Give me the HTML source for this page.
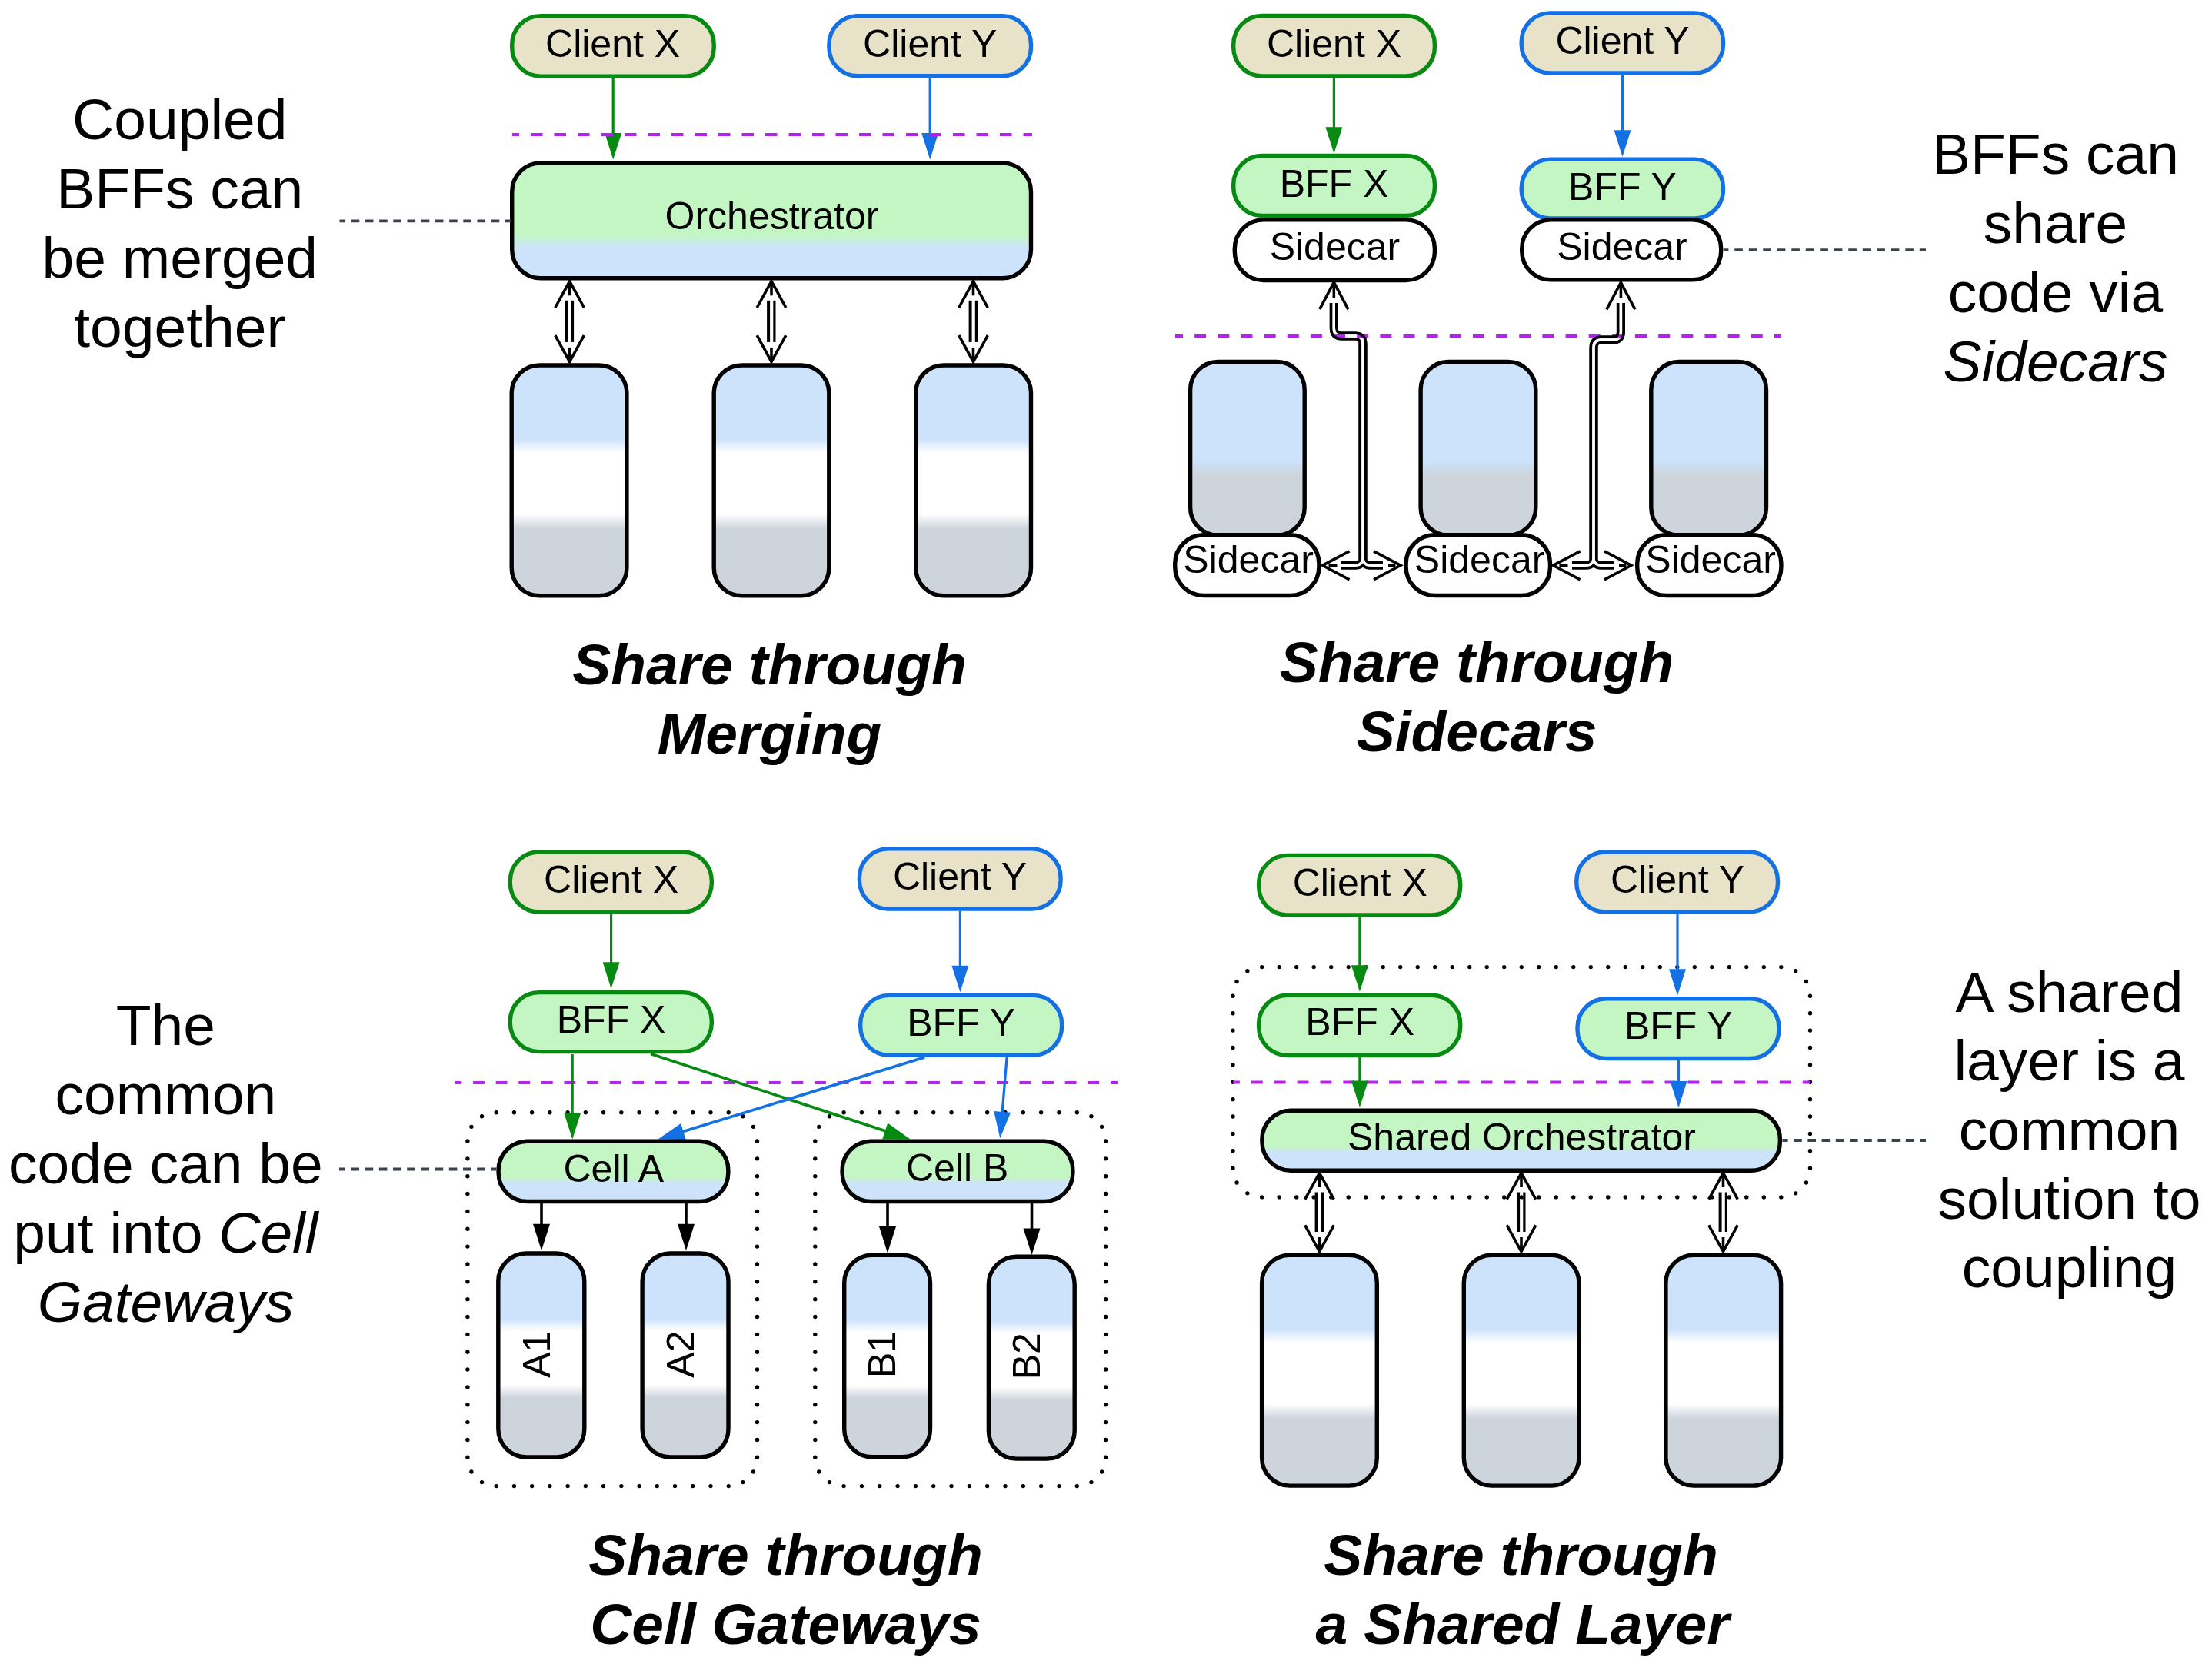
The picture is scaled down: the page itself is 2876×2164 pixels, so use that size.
<!DOCTYPE html>
<html><head><meta charset="utf-8"><style>
html,body{margin:0;padding:0;background:#fff;}
svg{display:block;font-family:"Liberation Sans",sans-serif;}
</style></head><body>
<svg width="2876" height="2164" viewBox="0 0 2876 2164">
<defs>
<linearGradient id="gOrch" x1="0" y1="0" x2="0" y2="1">
 <stop offset="0" stop-color="#c4f6c4"/><stop offset="0.62" stop-color="#c4f6c4"/><stop offset="0.74" stop-color="#cde2fb"/><stop offset="1" stop-color="#cde2fb"/>
</linearGradient>
<linearGradient id="gCell" x1="0" y1="0" x2="0" y2="1">
 <stop offset="0" stop-color="#c4f6c4"/><stop offset="0.6" stop-color="#c4f6c4"/><stop offset="0.695" stop-color="#cde2fb"/><stop offset="1" stop-color="#cde2fb"/>
</linearGradient>
<linearGradient id="gDb" x1="0" y1="0" x2="0" y2="1">
 <stop offset="0" stop-color="#cde2fb"/><stop offset="0.32" stop-color="#cde2fb"/><stop offset="0.38" stop-color="#ffffff"/><stop offset="0.645" stop-color="#ffffff"/><stop offset="0.71" stop-color="#cdd4dc"/><stop offset="1" stop-color="#cdd4dc"/>
</linearGradient>
<linearGradient id="gSc" x1="0" y1="0" x2="0" y2="1">
 <stop offset="0" stop-color="#cde2fb"/><stop offset="0.575" stop-color="#cde2fb"/><stop offset="0.655" stop-color="#cdd4dc"/><stop offset="1" stop-color="#cdd4dc"/>
</linearGradient>
</defs>
<rect width="2876" height="2164" fill="#fff"/>
<rect x="665.70" y="20.60" width="262.50" height="78.50" rx="37.3" ry="37.3" fill="#e8e2c8" stroke="#078a12" stroke-width="5.4"/>
<text x="796.6" y="74.1" font-size="50" font-weight="normal" font-style="normal" text-anchor="middle" >Client X</text>
<rect x="1077.90" y="20.60" width="262.60" height="78.20" rx="37.3" ry="37.3" fill="#e8e2c8" stroke="#1471e4" stroke-width="5.4"/>
<text x="1209.2" y="73.7" font-size="50" font-weight="normal" font-style="normal" text-anchor="middle" >Client Y</text>
<line x1="797.2" y1="101" x2="797.2" y2="174.0" stroke="#078a12" stroke-width="3.2"/>
<path d="M786.2,173.0 L808.2,173.0 L797.2,207.5 Z" fill="#078a12"/>
<line x1="1209.2" y1="101" x2="1209.2" y2="174.0" stroke="#1471e4" stroke-width="3.2"/>
<path d="M1198.2,173.0 L1220.2,173.0 L1209.2,207.5 Z" fill="#1471e4"/>
<line x1="666" y1="175" x2="1342" y2="175" stroke="#b422f2" stroke-width="4" stroke-dasharray="15.5 15" stroke-dashoffset="6.5"/>
<rect x="665.70" y="211.90" width="674.80" height="149.90" rx="37.3" ry="37.3" fill="url(#gOrch)" stroke="#000" stroke-width="5.4"/>
<text x="1003.5" y="298.1" font-size="50" font-weight="normal" font-style="normal" text-anchor="middle" >Orchestrator</text>
<line x1="664" y1="287.3" x2="441.5" y2="287.3" stroke="#3a424e" stroke-width="3.8" stroke-dasharray="10.6 7.6" stroke-dashoffset="3.5"/>
<path d="M721.8000000000001,400.0 L740.6,365.8 L759.4,400.0" fill="none" stroke="#000" stroke-width="3.6"/>
<path d="M721.8000000000001,436.2 L740.6,470.4 L759.4,436.2" fill="none" stroke="#000" stroke-width="3.6"/>
<line x1="740.6" y1="366.8" x2="740.6" y2="384.3" stroke="#000" stroke-width="3.6"/>
<line x1="740.6" y1="451.9" x2="740.6" y2="469.4" stroke="#000" stroke-width="3.6"/>
<line x1="736.7" y1="390.8" x2="736.7" y2="444.9" stroke="#000" stroke-width="4"/>
<line x1="744.5" y1="390.8" x2="744.5" y2="444.9" stroke="#000" stroke-width="3.2"/>
<rect x="665.20" y="475.00" width="149.70" height="299.80" rx="36.3" ry="36.3" fill="url(#gDb)" stroke="#000" stroke-width="5.4"/>
<path d="M984.2,400.0 L1003,365.8 L1021.8,400.0" fill="none" stroke="#000" stroke-width="3.6"/>
<path d="M984.2,436.2 L1003,470.4 L1021.8,436.2" fill="none" stroke="#000" stroke-width="3.6"/>
<line x1="1003" y1="366.8" x2="1003" y2="384.3" stroke="#000" stroke-width="3.6"/>
<line x1="1003" y1="451.9" x2="1003" y2="469.4" stroke="#000" stroke-width="3.6"/>
<line x1="999.1" y1="390.8" x2="999.1" y2="444.9" stroke="#000" stroke-width="4"/>
<line x1="1006.9" y1="390.8" x2="1006.9" y2="444.9" stroke="#000" stroke-width="3.2"/>
<rect x="928.20" y="475.00" width="149.60" height="299.80" rx="36.3" ry="36.3" fill="url(#gDb)" stroke="#000" stroke-width="5.4"/>
<path d="M1246.7,400.0 L1265.5,365.8 L1284.3,400.0" fill="none" stroke="#000" stroke-width="3.6"/>
<path d="M1246.7,436.2 L1265.5,470.4 L1284.3,436.2" fill="none" stroke="#000" stroke-width="3.6"/>
<line x1="1265.5" y1="366.8" x2="1265.5" y2="384.3" stroke="#000" stroke-width="3.6"/>
<line x1="1265.5" y1="451.9" x2="1265.5" y2="469.4" stroke="#000" stroke-width="3.6"/>
<line x1="1261.6" y1="390.8" x2="1261.6" y2="444.9" stroke="#000" stroke-width="4"/>
<line x1="1269.4" y1="390.8" x2="1269.4" y2="444.9" stroke="#000" stroke-width="3.2"/>
<rect x="1190.70" y="475.00" width="149.80" height="299.80" rx="36.3" ry="36.3" fill="url(#gDb)" stroke="#000" stroke-width="5.4"/>
<text x="233.8" y="180.6" font-size="75" font-weight="normal" font-style="normal" text-anchor="middle" >Coupled</text>
<text x="233.8" y="270.6" font-size="75" font-weight="normal" font-style="normal" text-anchor="middle" >BFFs can</text>
<text x="233.8" y="360.6" font-size="75" font-weight="normal" font-style="normal" text-anchor="middle" >be merged</text>
<text x="233.8" y="450.6" font-size="75" font-weight="normal" font-style="normal" text-anchor="middle" >together</text>
<text x="1000.5" y="890.0" font-size="75" font-weight="bold" font-style="italic" text-anchor="middle" >Share through</text>
<text x="1000.5" y="980.2" font-size="75" font-weight="bold" font-style="italic" text-anchor="middle" >Merging</text>
<rect x="1603.70" y="20.50" width="261.70" height="78.40" rx="37.3" ry="37.3" fill="#e8e2c8" stroke="#078a12" stroke-width="5.4"/>
<text x="1734.5" y="74.2" font-size="50" font-weight="normal" font-style="normal" text-anchor="middle" >Client X</text>
<rect x="1978.20" y="16.90" width="262.30" height="78.10" rx="37.3" ry="37.3" fill="#e8e2c8" stroke="#1471e4" stroke-width="5.4"/>
<text x="2109.5" y="69.7" font-size="50" font-weight="normal" font-style="normal" text-anchor="middle" >Client Y</text>
<line x1="1734.4" y1="101" x2="1734.4" y2="166.3" stroke="#078a12" stroke-width="3.2"/>
<path d="M1723.4,165.3 L1745.4,165.3 L1734.4,199.8 Z" fill="#078a12"/>
<line x1="2109.5" y1="97" x2="2109.5" y2="170.3" stroke="#1471e4" stroke-width="3.2"/>
<path d="M2098.5,169.3 L2120.5,169.3 L2109.5,203.8 Z" fill="#1471e4"/>
<rect x="1547.60" y="470.50" width="148.60" height="225.80" rx="36.3" ry="36.3" fill="url(#gSc)" stroke="#000" stroke-width="5.4"/>
<rect x="1847.10" y="470.50" width="149.70" height="225.80" rx="36.3" ry="36.3" fill="url(#gSc)" stroke="#000" stroke-width="5.4"/>
<rect x="2146.80" y="470.50" width="149.70" height="225.80" rx="36.3" ry="36.3" fill="url(#gSc)" stroke="#000" stroke-width="5.4"/>
<line x1="1528" y1="437" x2="2316" y2="437" stroke="#b422f2" stroke-width="4" stroke-dasharray="15 15.15" stroke-dashoffset="5"/>
<rect x="1603.70" y="202.50" width="261.70" height="78.00" rx="37.3" ry="37.3" fill="#c4f6c4" stroke="#078a12" stroke-width="5.4"/>
<text x="1734.5" y="255.8" font-size="50" font-weight="normal" font-style="normal" text-anchor="middle" >BFF X</text>
<rect x="1978.20" y="207.10" width="262.30" height="76.80" rx="37.3" ry="37.3" fill="#c4f6c4" stroke="#1471e4" stroke-width="5.4"/>
<text x="2109.5" y="260.3" font-size="50" font-weight="normal" font-style="normal" text-anchor="middle" >BFF Y</text>
<rect x="1605.30" y="285.90" width="260.10" height="78.60" rx="37.3" ry="37.3" fill="#ffffff" stroke="#000" stroke-width="5.4"/>
<text x="1735.4" y="338.0" font-size="50" font-weight="normal" font-style="normal" text-anchor="middle" >Sidecar</text>
<rect x="1978.70" y="285.90" width="259.00" height="77.90" rx="37.3" ry="37.3" fill="#ffffff" stroke="#000" stroke-width="5.4"/>
<text x="2109.0" y="338.4" font-size="50" font-weight="normal" font-style="normal" text-anchor="middle" >Sidecar</text>
<line x1="2241" y1="325.2" x2="2504" y2="325.2" stroke="#3a424e" stroke-width="3.8" stroke-dasharray="10.6 7.9" stroke-dashoffset="4.2"/>
<mask id="pm1" maskUnits="userSpaceOnUse" x="0" y="0" width="2876" height="2164"><rect x="0" y="0" width="2876" height="2164" fill="#fff"/><path d="M1734.3,394 V427 Q1734.3,437 1744.3,437 H1762 Q1772,437 1772,447 V725.3 Q1772,735.3 1762,735.3 H1744" fill="none" stroke="#000" stroke-width="3.4"/><path d="M1734.3,394 V427 Q1734.3,437 1744.3,437 H1762 Q1772,437 1772,447 V725.3 Q1772,735.3 1782,735.3 H1798" fill="none" stroke="#000" stroke-width="3.4"/></mask>
<g mask="url(#pm1)"><path d="M1734.3,394 V427 Q1734.3,437 1744.3,437 H1762 Q1772,437 1772,447 V725.3 Q1772,735.3 1762,735.3 H1744" fill="none" stroke="#000" stroke-width="11"/><path d="M1734.3,394 V427 Q1734.3,437 1744.3,437 H1762 Q1772,437 1772,447 V725.3 Q1772,735.3 1782,735.3 H1798" fill="none" stroke="#000" stroke-width="11"/></g>
<path d="M1752.8,402.2 L1734.3,367.2 L1715.8,402.2" fill="none" stroke="#000" stroke-width="3.6"/>
<line x1="1734.3" y1="369.2" x2="1734.3" y2="387.2" stroke="#000" stroke-width="3.6"/>
<path d="M1754.5,716.8 L1719.5,735.3 L1754.5,753.8" fill="none" stroke="#000" stroke-width="3.6"/>
<line x1="1727.5" y1="735.3" x2="1738.5" y2="735.3" stroke="#000" stroke-width="3.6"/>
<path d="M1786.0,753.8 L1821.0,735.3 L1786.0,716.8" fill="none" stroke="#000" stroke-width="3.6"/>
<line x1="1814.5" y1="735.3" x2="1805.0" y2="735.3" stroke="#000" stroke-width="3.6"/>
<mask id="pm2" maskUnits="userSpaceOnUse" x="0" y="0" width="2876" height="2164"><rect x="0" y="0" width="2876" height="2164" fill="#fff"/><path d="M2107.4,394 V432 Q2107.4,442 2097.4,442 H2082 Q2072,442 2072,452 V725.3 Q2072,735.3 2062,735.3 H2044" fill="none" stroke="#000" stroke-width="3.4"/><path d="M2107.4,394 V432 Q2107.4,442 2097.4,442 H2082 Q2072,442 2072,452 V725.3 Q2072,735.3 2082,735.3 H2098" fill="none" stroke="#000" stroke-width="3.4"/></mask>
<g mask="url(#pm2)"><path d="M2107.4,394 V432 Q2107.4,442 2097.4,442 H2082 Q2072,442 2072,452 V725.3 Q2072,735.3 2062,735.3 H2044" fill="none" stroke="#000" stroke-width="11"/><path d="M2107.4,394 V432 Q2107.4,442 2097.4,442 H2082 Q2072,442 2072,452 V725.3 Q2072,735.3 2082,735.3 H2098" fill="none" stroke="#000" stroke-width="11"/></g>
<path d="M2125.9,402.3 L2107.4,367.3 L2088.9,402.3" fill="none" stroke="#000" stroke-width="3.6"/>
<line x1="2107.4" y1="369.3" x2="2107.4" y2="387.3" stroke="#000" stroke-width="3.6"/>
<path d="M2054.5,716.8 L2019.5,735.3 L2054.5,753.8" fill="none" stroke="#000" stroke-width="3.6"/>
<line x1="2027.5" y1="735.3" x2="2038.5" y2="735.3" stroke="#000" stroke-width="3.6"/>
<path d="M2086.0,753.8 L2121.0,735.3 L2086.0,716.8" fill="none" stroke="#000" stroke-width="3.6"/>
<line x1="2114.5" y1="735.3" x2="2105.0" y2="735.3" stroke="#000" stroke-width="3.6"/>
<rect x="1527.70" y="695.80" width="187.20" height="78.70" rx="37.3" ry="37.3" fill="#ffffff" stroke="#000" stroke-width="5.4"/>
<text x="1623.1" y="744.9" font-size="50" font-weight="normal" font-style="normal" text-anchor="middle" >Sidecar</text>
<rect x="1828.10" y="695.80" width="187.40" height="78.70" rx="37.3" ry="37.3" fill="#ffffff" stroke="#000" stroke-width="5.4"/>
<text x="1923.6" y="744.9" font-size="50" font-weight="normal" font-style="normal" text-anchor="middle" >Sidecar</text>
<rect x="2128.70" y="695.80" width="187.20" height="78.70" rx="37.3" ry="37.3" fill="#ffffff" stroke="#000" stroke-width="5.4"/>
<text x="2224.1" y="744.9" font-size="50" font-weight="normal" font-style="normal" text-anchor="middle" >Sidecar</text>
<text x="2672.5" y="225.5" font-size="75" font-weight="normal" font-style="normal" text-anchor="middle" >BFFs can</text>
<text x="2672.5" y="315.5" font-size="75" font-weight="normal" font-style="normal" text-anchor="middle" >share</text>
<text x="2672.5" y="405.5" font-size="75" font-weight="normal" font-style="normal" text-anchor="middle" >code via</text>
<text x="2672.5" y="495.8" font-size="75" font-weight="normal" font-style="italic" text-anchor="middle" >Sidecars</text>
<text x="1920.0" y="886.8" font-size="75" font-weight="bold" font-style="italic" text-anchor="middle" >Share through</text>
<text x="1920.0" y="976.8" font-size="75" font-weight="bold" font-style="italic" text-anchor="middle" >Sidecars</text>
<path d="M645.20,1446.70h0M668.43,1446.70h0M691.66,1446.70h0M714.89,1446.70h0M738.12,1446.70h0M761.35,1446.70h0M784.58,1446.70h0M807.82,1446.70h0M831.05,1446.70h0M854.28,1446.70h0M877.51,1446.70h0M900.74,1446.70h0M923.97,1446.70h0M947.20,1446.70h0M965.85,1451.70h0M979.50,1465.35h0M984.50,1484.00h0M984.50,1506.85h0M984.50,1529.70h0M984.50,1552.55h0M984.50,1575.40h0M984.50,1598.25h0M984.50,1621.10h0M984.50,1643.95h0M984.50,1666.80h0M984.50,1689.65h0M984.50,1712.50h0M984.50,1735.35h0M984.50,1758.20h0M984.50,1781.05h0M984.50,1803.90h0M984.50,1826.75h0M984.50,1849.60h0M984.50,1872.45h0M984.50,1895.30h0M979.50,1913.95h0M965.85,1927.60h0M947.20,1932.60h0M923.97,1932.60h0M900.74,1932.60h0M877.51,1932.60h0M854.28,1932.60h0M831.05,1932.60h0M807.82,1932.60h0M784.58,1932.60h0M761.35,1932.60h0M738.12,1932.60h0M714.89,1932.60h0M691.66,1932.60h0M668.43,1932.60h0M645.20,1932.60h0M626.55,1927.60h0M612.90,1913.95h0M607.90,1895.30h0M607.90,1872.45h0M607.90,1849.60h0M607.90,1826.75h0M607.90,1803.90h0M607.90,1781.05h0M607.90,1758.20h0M607.90,1735.35h0M607.90,1712.50h0M607.90,1689.65h0M607.90,1666.80h0M607.90,1643.95h0M607.90,1621.10h0M607.90,1598.25h0M607.90,1575.40h0M607.90,1552.55h0M607.90,1529.70h0M607.90,1506.85h0M607.90,1484.00h0M612.90,1465.35h0M626.55,1451.70h0" fill="none" stroke="#000" stroke-width="5.4" stroke-linecap="round"/>
<path d="M1097.10,1446.70h0M1120.42,1446.70h0M1143.75,1446.70h0M1167.07,1446.70h0M1190.39,1446.70h0M1213.72,1446.70h0M1237.04,1446.70h0M1260.36,1446.70h0M1283.68,1446.70h0M1307.01,1446.70h0M1330.33,1446.70h0M1353.65,1446.70h0M1376.98,1446.70h0M1400.30,1446.70h0M1418.95,1451.70h0M1432.60,1465.35h0M1437.60,1484.00h0M1437.60,1506.85h0M1437.60,1529.70h0M1437.60,1552.55h0M1437.60,1575.40h0M1437.60,1598.25h0M1437.60,1621.10h0M1437.60,1643.95h0M1437.60,1666.80h0M1437.60,1689.65h0M1437.60,1712.50h0M1437.60,1735.35h0M1437.60,1758.20h0M1437.60,1781.05h0M1437.60,1803.90h0M1437.60,1826.75h0M1437.60,1849.60h0M1437.60,1872.45h0M1437.60,1895.30h0M1432.60,1913.95h0M1418.95,1927.60h0M1400.30,1932.60h0M1376.98,1932.60h0M1353.65,1932.60h0M1330.33,1932.60h0M1307.01,1932.60h0M1283.68,1932.60h0M1260.36,1932.60h0M1237.04,1932.60h0M1213.72,1932.60h0M1190.39,1932.60h0M1167.07,1932.60h0M1143.75,1932.60h0M1120.42,1932.60h0M1097.10,1932.60h0M1078.45,1927.60h0M1064.80,1913.95h0M1059.80,1895.30h0M1059.80,1872.45h0M1059.80,1849.60h0M1059.80,1826.75h0M1059.80,1803.90h0M1059.80,1781.05h0M1059.80,1758.20h0M1059.80,1735.35h0M1059.80,1712.50h0M1059.80,1689.65h0M1059.80,1666.80h0M1059.80,1643.95h0M1059.80,1621.10h0M1059.80,1598.25h0M1059.80,1575.40h0M1059.80,1552.55h0M1059.80,1529.70h0M1059.80,1506.85h0M1059.80,1484.00h0M1064.80,1465.35h0M1078.45,1451.70h0" fill="none" stroke="#000" stroke-width="5.4" stroke-linecap="round"/>
<rect x="663.30" y="1108.00" width="262.00" height="77.90" rx="37.3" ry="37.3" fill="#e8e2c8" stroke="#078a12" stroke-width="5.4"/>
<text x="794.6" y="1160.7" font-size="50" font-weight="normal" font-style="normal" text-anchor="middle" >Client X</text>
<rect x="1117.40" y="1103.90" width="261.70" height="78.20" rx="37.3" ry="37.3" fill="#e8e2c8" stroke="#1471e4" stroke-width="5.4"/>
<text x="1248.0" y="1157.1" font-size="50" font-weight="normal" font-style="normal" text-anchor="middle" >Client Y</text>
<line x1="794.6" y1="1188" x2="794.6" y2="1252.3" stroke="#078a12" stroke-width="3.2"/>
<path d="M783.6,1251.3 L805.6,1251.3 L794.6,1285.8 Z" fill="#078a12"/>
<line x1="1248.4" y1="1184.5" x2="1248.4" y2="1256.7" stroke="#1471e4" stroke-width="3.2"/>
<path d="M1237.4,1255.7 L1259.4,1255.7 L1248.4,1290.2 Z" fill="#1471e4"/>
<rect x="663.30" y="1290.60" width="262.00" height="77.00" rx="37.3" ry="37.3" fill="#c4f6c4" stroke="#078a12" stroke-width="5.4"/>
<text x="794.6" y="1343.2" font-size="50" font-weight="normal" font-style="normal" text-anchor="middle" >BFF X</text>
<rect x="1118.70" y="1294.40" width="261.90" height="77.90" rx="37.3" ry="37.3" fill="#c4f6c4" stroke="#1471e4" stroke-width="5.4"/>
<text x="1249.6" y="1346.8" font-size="50" font-weight="normal" font-style="normal" text-anchor="middle" >BFF Y</text>
<line x1="591" y1="1408" x2="1453" y2="1408" stroke="#b422f2" stroke-width="4" stroke-dasharray="14.8 14.8" stroke-dashoffset="5.5"/>
<line x1="744.2" y1="1371" x2="744.2" y2="1448.1" stroke="#078a12" stroke-width="3.2"/>
<path d="M733.2,1447.1 L755.2,1447.1 L744.2,1481.6 Z" fill="#078a12"/>
<line x1="846" y1="1370.5" x2="1151.7" y2="1471.1" stroke="#078a12" stroke-width="3.7"/>
<path d="M1147.3,1481.3 L1154.2,1460.4 L1183.5,1481.6 Z" fill="#078a12"/>
<line x1="1202.2" y1="1375" x2="887.5" y2="1471.8" stroke="#1471e4" stroke-width="3.7"/>
<path d="M885.2,1460.9 L891.7,1482.0 L855.5,1481.6 Z" fill="#1471e4"/>
<line x1="1309.1" y1="1375" x2="1303.1" y2="1446.8" stroke="#1471e4" stroke-width="3.3"/>
<path d="M1292.2,1444.9 L1314.1,1446.7 L1300.3,1480.2 Z" fill="#1471e4"/>
<rect x="648.10" y="1484.30" width="298.70" height="78.20" rx="37.3" ry="37.3" fill="url(#gCell)" stroke="#000" stroke-width="5.4"/>
<text x="797.8" y="1537.0" font-size="50" font-weight="normal" font-style="normal" text-anchor="middle" >Cell A</text>
<rect x="1095.10" y="1484.30" width="299.80" height="78.20" rx="37.3" ry="37.3" fill="url(#gCell)" stroke="#000" stroke-width="5.4"/>
<text x="1244.6" y="1536.3" font-size="50" font-weight="normal" font-style="normal" text-anchor="middle" >Cell B</text>
<line x1="645.5" y1="1520.5" x2="441" y2="1520.5" stroke="#3a424e" stroke-width="3.8" stroke-dasharray="10.6 7.6" stroke-dashoffset="3.5"/>
<line x1="704" y1="1564.5" x2="704" y2="1592.8" stroke="#000" stroke-width="3.6"/>
<path d="M693,1591.8 L715,1591.8 L704,1626.3 Z" fill="#000"/>
<line x1="892" y1="1564.5" x2="892" y2="1592.8" stroke="#000" stroke-width="3.6"/>
<path d="M881,1591.8 L903,1591.8 L892,1626.3 Z" fill="#000"/>
<line x1="1154" y1="1564.5" x2="1154" y2="1596.0" stroke="#000" stroke-width="3.6"/>
<path d="M1143,1595.0 L1165,1595.0 L1154,1629.5 Z" fill="#000"/>
<line x1="1341.5" y1="1564.5" x2="1341.5" y2="1598.5" stroke="#000" stroke-width="3.6"/>
<path d="M1330.5,1597.5 L1352.5,1597.5 L1341.5,1632 Z" fill="#000"/>
<rect x="647.80" y="1630.00" width="112.00" height="264.90" rx="36.3" ry="36.3" fill="url(#gDb)" stroke="#000" stroke-width="5.4"/>
<text x="0" y="0" font-size="50" text-anchor="middle" transform="translate(714.6,1761.2) rotate(-90)">A1</text>
<rect x="835.10" y="1630.00" width="111.90" height="264.90" rx="36.3" ry="36.3" fill="url(#gDb)" stroke="#000" stroke-width="5.4"/>
<text x="0" y="0" font-size="50" text-anchor="middle" transform="translate(901.8,1761.2) rotate(-90)">A2</text>
<rect x="1097.70" y="1632.30" width="111.80" height="262.40" rx="36.3" ry="36.3" fill="url(#gDb)" stroke="#000" stroke-width="5.4"/>
<text x="0" y="0" font-size="50" text-anchor="middle" transform="translate(1164.4,1761.5) rotate(-90)">B1</text>
<rect x="1285.40" y="1634.20" width="111.80" height="262.90" rx="36.3" ry="36.3" fill="url(#gDb)" stroke="#000" stroke-width="5.4"/>
<text x="0" y="0" font-size="50" text-anchor="middle" transform="translate(1352.1,1763.7) rotate(-90)">B2</text>
<text x="215.4" y="1359.2" font-size="75" font-weight="normal" font-style="normal" text-anchor="middle" >The</text>
<text x="215.4" y="1449.1" font-size="75" font-weight="normal" font-style="normal" text-anchor="middle" >common</text>
<text x="215.4" y="1539.0" font-size="75" font-weight="normal" font-style="normal" text-anchor="middle" >code can be</text>
<text x="215.4" y="1629" font-size="75" text-anchor="middle">put into <tspan font-style="italic">Cell</tspan></text>
<text x="215.4" y="1718.7" font-size="75" font-weight="normal" font-style="italic" text-anchor="middle" >Gateways</text>
<text x="1021.5" y="2047.6" font-size="75" font-weight="bold" font-style="italic" text-anchor="middle" >Share through</text>
<text x="1021.5" y="2137.9" font-size="75" font-weight="bold" font-style="italic" text-anchor="middle" >Cell Gateways</text>
<path d="M1640.70,1257.60h0M1663.20,1257.60h0M1685.71,1257.60h0M1708.21,1257.60h0M1730.71,1257.60h0M1753.22,1257.60h0M1775.72,1257.60h0M1798.22,1257.60h0M1820.73,1257.60h0M1843.23,1257.60h0M1865.73,1257.60h0M1888.24,1257.60h0M1910.74,1257.60h0M1933.24,1257.60h0M1955.75,1257.60h0M1978.25,1257.60h0M2000.75,1257.60h0M2023.26,1257.60h0M2045.76,1257.60h0M2068.26,1257.60h0M2090.77,1257.60h0M2113.27,1257.60h0M2135.77,1257.60h0M2158.28,1257.60h0M2180.78,1257.60h0M2203.28,1257.60h0M2225.79,1257.60h0M2248.29,1257.60h0M2270.79,1257.60h0M2293.30,1257.60h0M2315.80,1257.60h0M2334.65,1262.65h0M2348.45,1276.45h0M2353.50,1295.30h0M2353.50,1317.69h0M2353.50,1340.08h0M2353.50,1362.47h0M2353.50,1384.86h0M2353.50,1407.25h0M2353.50,1429.64h0M2353.50,1452.03h0M2353.50,1474.42h0M2353.50,1496.81h0M2353.50,1519.20h0M2348.45,1538.05h0M2334.65,1551.85h0M2315.80,1556.90h0M2293.30,1556.90h0M2270.79,1556.90h0M2248.29,1556.90h0M2225.79,1556.90h0M2203.28,1556.90h0M2180.78,1556.90h0M2158.28,1556.90h0M2135.77,1556.90h0M2113.27,1556.90h0M2090.77,1556.90h0M2068.26,1556.90h0M2045.76,1556.90h0M2023.26,1556.90h0M2000.75,1556.90h0M1978.25,1556.90h0M1955.75,1556.90h0M1933.24,1556.90h0M1910.74,1556.90h0M1888.24,1556.90h0M1865.73,1556.90h0M1843.23,1556.90h0M1820.73,1556.90h0M1798.22,1556.90h0M1775.72,1556.90h0M1753.22,1556.90h0M1730.71,1556.90h0M1708.21,1556.90h0M1685.71,1556.90h0M1663.20,1556.90h0M1640.70,1556.90h0M1621.85,1551.85h0M1608.05,1538.05h0M1603.00,1519.20h0M1603.00,1496.81h0M1603.00,1474.42h0M1603.00,1452.03h0M1603.00,1429.64h0M1603.00,1407.25h0M1603.00,1384.86h0M1603.00,1362.47h0M1603.00,1340.08h0M1603.00,1317.69h0M1603.00,1295.30h0M1608.05,1276.45h0M1621.85,1262.65h0" fill="none" stroke="#000" stroke-width="5.4" stroke-linecap="round"/>
<rect x="1636.60" y="1112.40" width="262.10" height="77.50" rx="37.3" ry="37.3" fill="#e8e2c8" stroke="#078a12" stroke-width="5.4"/>
<text x="1768.2" y="1165.1" font-size="50" font-weight="normal" font-style="normal" text-anchor="middle" >Client X</text>
<rect x="2049.80" y="1108.00" width="261.70" height="77.90" rx="37.3" ry="37.3" fill="#e8e2c8" stroke="#1471e4" stroke-width="5.4"/>
<text x="2181.0" y="1160.7" font-size="50" font-weight="normal" font-style="normal" text-anchor="middle" >Client Y</text>
<line x1="1767.9" y1="1192" x2="1767.9" y2="1256.2" stroke="#078a12" stroke-width="3.2"/>
<path d="M1756.9,1255.2 L1778.9,1255.2 L1767.9,1289.7 Z" fill="#078a12"/>
<line x1="2181" y1="1188" x2="2181" y2="1261.2" stroke="#1471e4" stroke-width="3.2"/>
<path d="M2170,1260.2 L2192,1260.2 L2181,1294.7 Z" fill="#1471e4"/>
<rect x="1636.60" y="1294.30" width="262.10" height="78.30" rx="37.3" ry="37.3" fill="#c4f6c4" stroke="#078a12" stroke-width="5.4"/>
<text x="1768.2" y="1346.4" font-size="50" font-weight="normal" font-style="normal" text-anchor="middle" >BFF X</text>
<rect x="2051.00" y="1298.80" width="261.90" height="77.70" rx="37.3" ry="37.3" fill="#c4f6c4" stroke="#1471e4" stroke-width="5.4"/>
<text x="2182.3" y="1350.6" font-size="50" font-weight="normal" font-style="normal" text-anchor="middle" >BFF Y</text>
<line x1="1603" y1="1407.5" x2="2353" y2="1407.5" stroke="#b422f2" stroke-width="4" stroke-dasharray="14.9 14.97" stroke-dashoffset="6"/>
<line x1="1767.9" y1="1375" x2="1767.9" y2="1406.5" stroke="#078a12" stroke-width="3.2"/>
<path d="M1756.9,1405.5 L1778.9,1405.5 L1767.9,1440 Z" fill="#078a12"/>
<line x1="2182.5" y1="1379" x2="2182.5" y2="1406.9" stroke="#1471e4" stroke-width="3.2"/>
<path d="M2171.5,1405.9 L2193.5,1405.9 L2182.5,1440.4 Z" fill="#1471e4"/>
<rect x="1640.90" y="1444.30" width="673.50" height="78.00" rx="37.3" ry="37.3" fill="url(#gCell)" stroke="#000" stroke-width="5.4"/>
<text x="1978.5" y="1496.3" font-size="50" font-weight="normal" font-style="normal" text-anchor="middle" >Shared Orchestrator</text>
<line x1="2317.5" y1="1483" x2="2504" y2="1483" stroke="#3a424e" stroke-width="3.8" stroke-dasharray="10.6 7.6" stroke-dashoffset="3.5"/>
<path d="M1696.7,1559.7 L1715.5,1525.5 L1734.3,1559.7" fill="none" stroke="#000" stroke-width="3.6"/>
<path d="M1696.7,1593.3 L1715.5,1627.5 L1734.3,1593.3" fill="none" stroke="#000" stroke-width="3.6"/>
<line x1="1715.5" y1="1526.5" x2="1715.5" y2="1544.0" stroke="#000" stroke-width="3.6"/>
<line x1="1715.5" y1="1609.0" x2="1715.5" y2="1626.5" stroke="#000" stroke-width="3.6"/>
<line x1="1711.6" y1="1550.5" x2="1711.6" y2="1602.0" stroke="#000" stroke-width="4"/>
<line x1="1719.4" y1="1550.5" x2="1719.4" y2="1602.0" stroke="#000" stroke-width="3.2"/>
<rect x="1640.60" y="1632.30" width="149.70" height="299.80" rx="36.3" ry="36.3" fill="url(#gDb)" stroke="#000" stroke-width="5.4"/>
<path d="M1959.2,1559.7 L1978,1525.5 L1996.8,1559.7" fill="none" stroke="#000" stroke-width="3.6"/>
<path d="M1959.2,1593.3 L1978,1627.5 L1996.8,1593.3" fill="none" stroke="#000" stroke-width="3.6"/>
<line x1="1978" y1="1526.5" x2="1978" y2="1544.0" stroke="#000" stroke-width="3.6"/>
<line x1="1978" y1="1609.0" x2="1978" y2="1626.5" stroke="#000" stroke-width="3.6"/>
<line x1="1974.1" y1="1550.5" x2="1974.1" y2="1602.0" stroke="#000" stroke-width="4"/>
<line x1="1981.9" y1="1550.5" x2="1981.9" y2="1602.0" stroke="#000" stroke-width="3.2"/>
<rect x="1903.30" y="1632.30" width="149.60" height="299.80" rx="36.3" ry="36.3" fill="url(#gDb)" stroke="#000" stroke-width="5.4"/>
<path d="M2221.7,1559.7 L2240.5,1525.5 L2259.3,1559.7" fill="none" stroke="#000" stroke-width="3.6"/>
<path d="M2221.7,1593.3 L2240.5,1627.5 L2259.3,1593.3" fill="none" stroke="#000" stroke-width="3.6"/>
<line x1="2240.5" y1="1526.5" x2="2240.5" y2="1544.0" stroke="#000" stroke-width="3.6"/>
<line x1="2240.5" y1="1609.0" x2="2240.5" y2="1626.5" stroke="#000" stroke-width="3.6"/>
<line x1="2236.6" y1="1550.5" x2="2236.6" y2="1602.0" stroke="#000" stroke-width="4"/>
<line x1="2244.4" y1="1550.5" x2="2244.4" y2="1602.0" stroke="#000" stroke-width="3.2"/>
<rect x="2165.90" y="1632.30" width="149.70" height="299.80" rx="36.3" ry="36.3" fill="url(#gDb)" stroke="#000" stroke-width="5.4"/>
<text x="2690.5" y="1315.5" font-size="75" font-weight="normal" font-style="normal" text-anchor="middle" >A shared</text>
<text x="2690.5" y="1405.2" font-size="75" font-weight="normal" font-style="normal" text-anchor="middle" >layer is a</text>
<text x="2690.5" y="1494.9" font-size="75" font-weight="normal" font-style="normal" text-anchor="middle" >common</text>
<text x="2690.5" y="1584.6" font-size="75" font-weight="normal" font-style="normal" text-anchor="middle" >solution to</text>
<text x="2690.5" y="1674.3" font-size="75" font-weight="normal" font-style="normal" text-anchor="middle" >coupling</text>
<text x="1977.5" y="2047.6" font-size="75" font-weight="bold" font-style="italic" text-anchor="middle" >Share through</text>
<text x="1979.5" y="2137.9" font-size="75" font-weight="bold" font-style="italic" text-anchor="middle" >a Shared Layer</text>
</svg></body></html>
